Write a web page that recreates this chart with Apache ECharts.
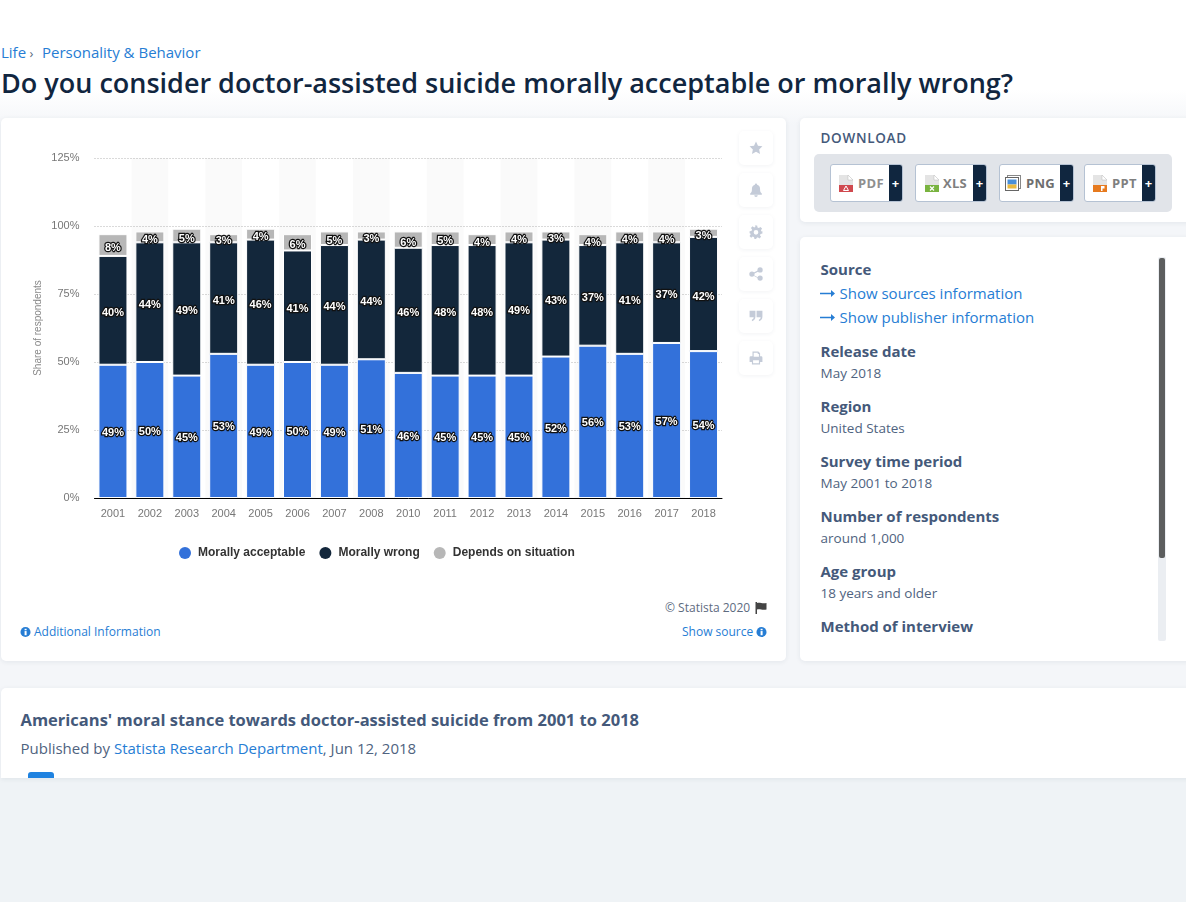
<!DOCTYPE html>
<html>
<head>
<meta charset="utf-8">
<title>Doctor-assisted suicide</title>
<script src="https://cdn.jsdelivr.net/npm/echarts@6/dist/echarts.min.js"></script>
<style>
*{box-sizing:border-box}
html,body{margin:0;padding:0;width:1186px;height:902px;overflow:hidden;background:#eff3f6;font-family:"Open Sans",sans-serif}
.abs{position:absolute;white-space:nowrap}
#top{position:absolute;left:0;top:0;width:1186px;height:778px;background:linear-gradient(#fff 0,#fff 90px,#f4f6f9 125px,#f4f6f9 100%)}
.card{position:absolute;background:#fff;border-radius:5px;box-shadow:0 1px 5px rgba(30,50,80,.08)}
a,.lnk{color:#267dd4;text-decoration:none}
.h{font-weight:700;font-size:15px;color:#44597a;line-height:20px}
.v{font-size:13.5px;color:#4f6380;line-height:20px}
.side{position:absolute;left:739px;width:34px;height:34px;background:#fff;border-radius:5px;box-shadow:0 1px 4px rgba(30,50,80,.06);display:flex;align-items:center;justify-content:center}
.side svg{width:14px;height:14px;fill:#c4cbd8}
.btn{position:absolute;top:164px;height:38px;background:#fff;border:1px solid #b5c2d3;border-radius:3px;font-size:13px;font-weight:700;color:#7f7f7f;overflow:hidden}
.btn .p{position:absolute;right:0;top:0;bottom:0;width:13px;background:#10263f;color:#fff;text-align:center;line-height:36px;font-size:13px}
.btn .t{position:absolute;top:0;line-height:36px;letter-spacing:.3px}
.btn svg{position:absolute;top:10px}
</style>
</head>
<body>
<div id="top"></div>
<div class="abs lnk" style="left:1px;top:42px;font-size:15px;line-height:20px">Life<span style="color:#5a6a80;font-size:13px"> › </span></div>
<div class="abs lnk" style="left:42px;top:42px;font-size:15px;line-height:20px">Personality &amp; Behavior</div>
<div class="abs" style="left:1px;top:65px;font-size:27px;font-weight:600;color:#11263f;line-height:36px">Do you consider doctor-assisted suicide morally acceptable or morally wrong?</div>

<div class="card" style="left:1px;top:118px;width:785px;height:543px"></div>
<div id="chart" style="position:absolute;left:1px;top:118px;width:735px;height:470px"></div>

<div class="side" style="top:131px"><svg viewBox="0 0 24 24"><path d="M12 1l3.400 7.300 7.600.9-5.600 5.300 1.500 7.900L12 18.500 5.100 22.400l1.500-7.900L1 9.200l7.600-.9z"/></svg></div>
<div class="side" style="top:173px"><svg viewBox="0 0 24 24"><path d="M12 1a2 2 0 0 1 2 2c4 1 5 4 5 8 0 4 1 5 3 7v2H2v-2c2-2 3-3 3-7 0-4 1-7 5-8a2 2 0 0 1 2-2zM9 21h6a3 3 0 0 1-6 0z"/></svg></div>
<div class="side" style="top:215px"><svg viewBox="0 0 24 24"><path fill-rule="evenodd" d="M10 1h4l.6 3.200 2.300 1 2.700-1.900 2.800 2.800-1.900 2.700 1 2.300L23 10.700v4l-3.200.6-1 2.300 1.900 2.700-2.800 2.800-2.700-1.900-2.300 1L12.300 24h-3l-.6-3.200-2.300-1-2.700 1.900-2.800-2.800 1.900-2.700-1-2.300L1 14.700v-4l3.200-.6 1-2.300L3.300 5.100l2.800-2.800 2.700 1.900 2.300-1zM12 8.500a4 4 0 1 0 0 8 4 4 0 0 0 0-8z"/></svg></div>
<div class="side" style="top:257px"><svg viewBox="0 0 24 24"><circle cx="5" cy="12" r="4.500"/><circle cx="19" cy="5" r="4.500"/><circle cx="19" cy="19" r="4.500"/><path d="M5 11l14-7v2.500L6 13l13 6.500V21L4 13z"/></svg></div>
<div class="side" style="top:299px"><svg viewBox="0 0 24 24"><path d="M1 3h10v10c0 4-2 7-6 8v-3c2-1 3-2 3-4H1zM13 3h10v10c0 4-2 7-6 8v-3c2-1 3-2 3-4h-7z"/></svg></div>
<div class="side" style="top:341px"><svg viewBox="0 0 24 24"><path fill-rule="evenodd" d="M6 1h10l3 3v5h2a2 2 0 0 1 2 2v8h-4v4H5v-4H1v-8a2 2 0 0 1 2-2h3zM8 3v7h9V5h-2V3zM7 16v5h10v-5z"/></svg></div>

<div class="abs" style="left:665px;top:599px;font-size:12px;color:#5d6b80;line-height:18px">© Statista 2020</div>
<svg class="abs" style="left:755px;top:602px" width="12" height="12" viewBox="0 0 12 12"><path d="M.5 0h1.500v12H.5zM2 1c3-1 5 1 9.500 0v6.500c-4.500 1-6.500-1-9.500 0z" fill="#444"/></svg>
<svg class="abs" style="left:20px;top:626px" width="11" height="12" viewBox="0 0 12 12"><circle cx="6" cy="6" r="5.500" fill="#267dd4"/><rect x="5" y="5" width="2.200" height="4.500" fill="#fff"/><rect x="5" y="2.500" width="2.200" height="1.600" fill="#fff"/></svg>
<div class="abs lnk" style="left:34px;top:623px;font-size:12px;line-height:18px">Additional Information</div>
<div class="abs lnk" style="left:682px;top:623px;font-size:12px;line-height:18px">Show source</div>
<svg class="abs" style="left:756px;top:626px" width="11" height="12" viewBox="0 0 12 12"><circle cx="6" cy="6" r="5.500" fill="#267dd4"/><rect x="5" y="5" width="2.200" height="4.500" fill="#fff"/><rect x="5" y="2.500" width="2.200" height="1.600" fill="#fff"/></svg>

<div class="card" style="left:800px;top:118px;width:392px;height:104px"></div>
<div class="abs" style="left:820.500px;top:129px;font-size:13.5px;font-weight:600;color:#44597a;letter-spacing:.7px;line-height:18px">DOWNLOAD</div>
<div class="abs" style="left:814px;top:154px;width:358px;height:58px;background:#e1e4e9;border-radius:5px"></div>

<div class="btn" style="left:830px;width:73px"><svg width="14" height="17" viewBox="0 0 14 17" style="left:8px"><path d="M0 0h9l5 5v12H0z" fill="#e4e4e4"/><path d="M9 0v5h5z" fill="#fff" stroke="#bbb" stroke-width=".5"/><rect y="10" width="14" height="7" fill="#d0494f"/><path d="M7 11l2.500 4.500h-5z" fill="none" stroke="#fff"/></svg><span class="t" style="left:27px;color:#8f8f8f">PDF</span><span class="p">+</span></div>
<div class="btn" style="left:915px;width:72px"><svg width="14" height="17" viewBox="0 0 14 17" style="left:9px"><path d="M0 0h9l5 5v12H0z" fill="#e4e4e4"/><path d="M9 0v5h5z" fill="#fff" stroke="#bbb" stroke-width=".5"/><rect y="10" width="14" height="7" fill="#79b33f"/><path d="M5 11.500l4 4M9 11.500l-4 4" stroke="#fff" stroke-width="1.200"/></svg><span class="t" style="left:27px">XLS</span><span class="p">+</span></div>
<div class="btn" style="left:999px;width:75px"><svg width="16" height="16" viewBox="0 0 16 16" style="left:5px"><rect x="2.500" y=".5" width="13" height="13" fill="#fff" stroke="#888"/><rect x=".5" y="2.500" width="13" height="13" fill="#fff" stroke="#666"/><rect x="2.500" y="4.500" width="9" height="5" fill="#4a90d9"/><rect x="2.500" y="9.500" width="9" height="4" fill="#e9b93f"/></svg><span class="t" style="left:26px;color:#6e6e6e">PNG</span><span class="p">+</span></div>
<div class="btn" style="left:1084px;width:72px"><svg width="14" height="17" viewBox="0 0 14 17" style="left:8px"><path d="M0 0h9l5 5v12H0z" fill="#e4e4e4"/><path d="M9 0v5h5z" fill="#fff" stroke="#bbb" stroke-width=".5"/><rect y="10" width="14" height="7" fill="#e67a1f"/><rect x="8" y="11" width="1.500" height="5" fill="#fff"/><rect x="8" y="11" width="3.500" height="2.500" fill="#fff"/></svg><span class="t" style="left:27px">PPT</span><span class="p">+</span></div>

<div class="card" style="left:800px;top:237px;width:392px;height:424px"></div>
<div class="abs" style="left:1158px;top:257px;width:8px;height:384px;background:#ebeef2;border-radius:2px"></div>
<div class="abs" style="left:1159px;top:258px;width:6px;height:300px;background:#5c5e5e;border-radius:2px"></div>
<div class="abs h" style="left:820.500px;top:259px">Source</div>
<svg class="abs" style="left:820px;top:289px" width="15" height="9" viewBox="0 0 15 9"><path d="M0 3.700h11V1l4 3.500-4 3.500V5.300H0z" fill="#267dd4"/></svg>
<div class="abs lnk" style="left:839.500px;top:283px;font-size:15px;line-height:20px">Show sources information</div>
<svg class="abs" style="left:820px;top:313px" width="15" height="9" viewBox="0 0 15 9"><path d="M0 3.700h11V1l4 3.500-4 3.500V5.300H0z" fill="#267dd4"/></svg>
<div class="abs lnk" style="left:839.500px;top:307px;font-size:15px;line-height:20px">Show publisher information</div>
<div class="abs h" style="left:820.500px;top:341px">Release date</div>
<div class="abs v" style="left:820.500px;top:363px">May 2018</div>
<div class="abs h" style="left:820.500px;top:396px">Region</div>
<div class="abs v" style="left:820.500px;top:418px">United States</div>
<div class="abs h" style="left:820.500px;top:451px">Survey time period</div>
<div class="abs v" style="left:820.500px;top:473px">May 2001 to 2018</div>
<div class="abs h" style="left:820.500px;top:506px">Number of respondents</div>
<div class="abs v" style="left:820.500px;top:528px">around 1,000</div>
<div class="abs h" style="left:820.500px;top:561px">Age group</div>
<div class="abs v" style="left:820.500px;top:583px">18 years and older</div>
<div class="abs h" style="left:820.500px;top:616px">Method of interview</div>

<div class="card" style="left:1px;top:688px;width:1191px;height:90px;border-radius:5px 5px 0 0"></div>
<div class="abs" style="left:20.500px;top:709px;font-size:16.500px;font-weight:700;color:#44597a;line-height:22px">Americans' moral stance towards doctor-assisted suicide from 2001 to 2018</div>
<div class="abs" style="left:20.500px;top:738px;font-size:15px;color:#4f6380;line-height:20px">Published by <a>Statista Research Department</a>, Jun 12, 2018</div>
<div class="abs" style="left:28px;top:772px;width:26px;height:6px;background:#1f82e0;border-radius:3px 3px 0 0"></div>

<script>
var categories = ['2001','2002','2003','2004','2005','2006','2007','2008','2010','2011','2012','2013','2014','2015','2016','2017','2018'];
var acceptable = [49,50,45,53,49,50,49,51,46,45,45,45,52,56,53,57,54];
var wrong = [40,44,49,41,46,41,44,44,46,48,48,49,43,37,41,37,42];
var depends = [8,4,5,3,4,6,5,3,6,5,4,4,3,4,4,4,3];
var yTicks = [0,25,50,75,100,125];

function makeSeries(name, values, color, dy){
  return {
    name:name, type:'bar', stack:'total', data:values, barWidth:29,
    itemStyle:{color:color, borderColor:'#fff', borderWidth:1},
    label:{show:true, position:'inside', formatter:'{c}%', color:'#fff', fontFamily:'"Liberation Sans",Arial,sans-serif',
      fontSize:11, fontWeight:'bold', textBorderColor:'#111', textBorderWidth:2.5},
    labelLayout:{hideOverlap:false, dy:dy}
  };
}
var chart = echarts.init(document.getElementById('chart'), null, {renderer:'canvas'});
chart.setOption({
  animation:false,
  grid:{left:93.5, right:14, top:40, bottom:90, containLabel:false},
  legend:{left:178, top:429, padding:0, icon:'circle', itemWidth:12, itemHeight:12, itemGap:14, selectedMode:false,
    itemStyle:{borderWidth:0},
    textStyle:{fontFamily:'"Liberation Sans",Arial,sans-serif', fontSize:12, fontWeight:'bold', color:'#333', padding:[0,0,0,2]},
    data:['Morally acceptable','Morally wrong','Depends on situation']},
  xAxis:{type:'category', data:categories,
    axisLine:{lineStyle:{color:'#000', width:1}}, axisTick:{show:false},
    axisLabel:{interval:0, color:'#777', fontSize:11, margin:10, fontFamily:'"Liberation Sans",Arial,sans-serif'},
    splitArea:{show:true, interval:0, areaStyle:{color:['rgba(0,0,0,0)','rgba(0,0,0,0.02)']}}},
  yAxis:{type:'value', min:yTicks[0], max:yTicks[yTicks.length-1], interval:25,
    name:'Share of respondents', nameLocation:'middle', nameGap:51, nameRotate:90, nameMoveOverlap:false,
    nameTextStyle:{color:'#888', fontSize:10, fontFamily:'"Liberation Sans",Arial,sans-serif'},
    axisLine:{show:false}, axisTick:{show:false},
    axisLabel:{color:'#777', fontSize:11, margin:15, formatter:'{value}%', fontFamily:'"Liberation Sans",Arial,sans-serif'},
    splitLine:{show:true, lineStyle:{color:'#b5b5b5', type:[1,2], width:1}}},
  series:[
    makeSeries('Morally acceptable', acceptable, '#3371da', 1.5),
    makeSeries('Morally wrong', wrong, '#13273b', 2.5),
    makeSeries('Depends on situation', depends, '#b7b7b7', 3)
  ]
});
</script>
</body>
</html>
